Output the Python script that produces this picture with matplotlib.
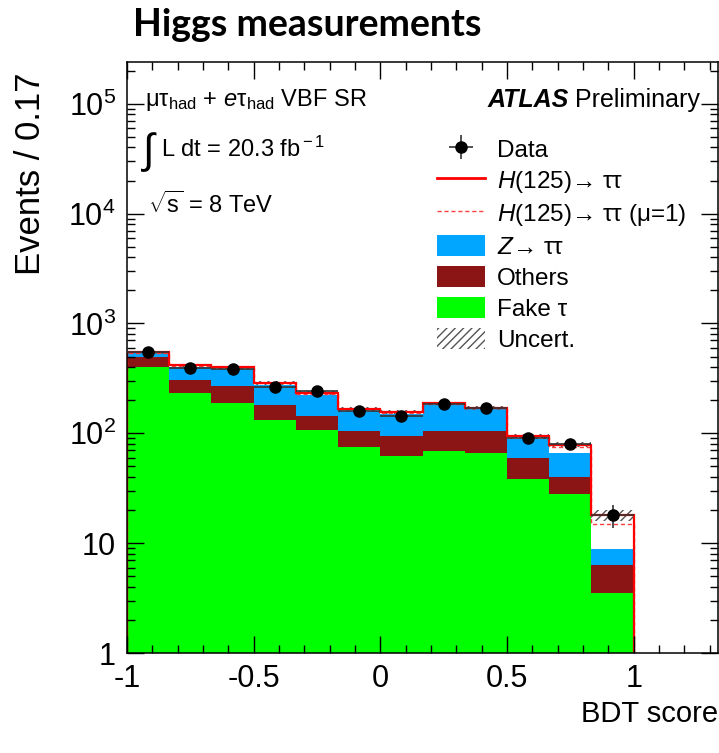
import matplotlib

matplotlib.use("Agg")

import matplotlib.pyplot as plt
import numpy as np
from matplotlib.lines import Line2D
from matplotlib.patches import Patch
from matplotlib.ticker import FixedLocator, FuncFormatter, LogLocator, MultipleLocator

plt.rcParams["font.family"] = ["Liberation Sans", "DejaVu Sans"]
plt.rcParams["mathtext.fontset"] = "custom"
plt.rcParams["mathtext.rm"] = "Liberation Sans"
plt.rcParams["mathtext.it"] = "Liberation Sans:italic"
plt.rcParams["mathtext.bf"] = "Liberation Sans:bold"
plt.rcParams["hatch.linewidth"] = 1.0
plt.rcParams["hatch.color"] = "#555555"

# 12 bins of width 0.17 over the BDT score range
bin_edges = np.linspace(-1.0, 1.0, 13)

fake_tau = [401, 233, 188, 132, 108, 75, 61.5, 69, 66, 38, 28, 3.5]
others = [90, 74, 82, 49, 36, 29, 32.5, 35, 38, 21, 12, 2.8]
z_tautau = [44, 94, 116, 94, 78, 57, 55, 78, 63, 30, 26, 2.5]
higgs_fit = [10, 14, 15, 14, 11, 6, 8, 5, 3, 5, 13, 9.2]
higgs_mu1 = [6.5, 9, 10, 9, 7, 4, 5, 3.3, 2, 3.3, 8.5, 6.1]
uncert_rel = [0.03, 0.03, 0.03, 0.04, 0.04, 0.04, 0.04, 0.04, 0.05, 0.05, 0.06, 0.12]

data = [545, 392, 386, 266, 241, 158, 144, 185, 170, 90, 80, 18]
data_err = [23, 20, 20, 16, 16, 13, 12, 14, 13, 9.5, 9, 4.2]

COLOR_FAKE = "#00ff00"
COLOR_OTHERS = "#8b1414"
COLOR_ZTT = "#00a6ff"
COLOR_HIGGS = "#ff0000"
TEXT_SIZE = 17

fig = plt.figure(figsize=(7.19, 7.53), dpi=100)
ax = fig.add_axes([0.1766, 0.1328, 0.8220, 0.7849])

level_1 = np.array(fake_tau)
level_2 = level_1 + np.array(others)
level_3 = level_2 + np.array(z_tautau)
total = level_3 + np.array(higgs_fit)
total_mu1 = level_3 + np.array(higgs_mu1)

floor = 1e-3
ax.stairs(level_1, bin_edges, baseline=floor, fill=True, color=COLOR_FAKE, lw=0)
ax.stairs(level_2, bin_edges, baseline=level_1, fill=True, color=COLOR_OTHERS, lw=0)
ax.stairs(level_3, bin_edges, baseline=level_2, fill=True, color=COLOR_ZTT, lw=0)
ax.stairs(total, bin_edges, baseline=level_3, fill=True, color="white", lw=0)

band_lo = total * (1 - np.array(uncert_rel))
band_hi = total * (1 + np.array(uncert_rel))
ax.bar(
    bin_edges[:-1],
    band_hi - band_lo,
    width=np.diff(bin_edges),
    bottom=band_lo,
    align="edge",
    fill=False,
    hatch="////",
    edgecolor="#555555",
    lw=0,
)

ax.stairs(total_mu1, bin_edges, baseline=floor, color="#ff4040", lw=1.0, linestyle=(0, (3, 2)))
ax.stairs(total, bin_edges, baseline=floor, color=COLOR_HIGGS, lw=1.6)

bin_centres = 0.5 * (bin_edges[:-1] + bin_edges[1:])
data_handle = ax.errorbar(
    bin_centres,
    data,
    xerr=0.5 * np.diff(bin_edges),
    yerr=data_err,
    fmt="o",
    color="black",
    ecolor="#333333",
    ms=8,
    elinewidth=1.2,
    capsize=0,
    zorder=5,
)

ax.set_yscale("log")
ax.set_xlim(-1.0, 1.333)
ax.set_ylim(1, 2.4e5)

ax.xaxis.set_major_locator(FixedLocator([-1, -0.5, 0, 0.5, 1]))
ax.xaxis.set_minor_locator(MultipleLocator(0.1))
ax.xaxis.set_major_formatter(FuncFormatter(lambda v, p: f"{v:g}"))

ax.yaxis.set_major_locator(FixedLocator([1, 10, 1e2, 1e3, 1e4, 1e5]))
ax.yaxis.set_minor_locator(LogLocator(base=10, subs=np.arange(2, 10)))


def y_label(value, pos):
    exponent = int(round(np.log10(value)))
    if exponent == 0:
        return "1"
    if exponent == 1:
        return "10"
    return f"$10^{{{exponent}}}$"


ax.yaxis.set_major_formatter(FuncFormatter(y_label))
ax.tick_params(which="both", direction="in", top=True, right=True, width=1.0)
ax.tick_params(which="major", length=12, labelsize=22, pad=8)
ax.tick_params(which="minor", length=6)
for spine in ax.spines.values():
    spine.set_linewidth(1.1)

ax.set_ylabel("Events / 0.17", fontsize=25, loc="top")
ax.yaxis.set_label_coords(-0.135, 0.982)
ax.set_xlabel("BDT score", fontsize=21, loc="right", labelpad=4)

ax.text(0.03, 0.936, r"μτ$_{\rm had}$ + $e$τ$_{\rm had}$ VBF SR", transform=ax.transAxes,
        fontsize=TEXT_SIZE, va="center", ha="left")
ax.text(0.027, 0.848, "∫", transform=ax.transAxes, fontsize=30, va="center", ha="left")
ax.text(0.057, 0.853, r"L dt = 20.3 fb$^{\rm -1}$", transform=ax.transAxes,
        fontsize=TEXT_SIZE, va="center", ha="left")
ax.text(0.035, 0.758, r"$\sqrt{\rm s}$ = 8 TeV", transform=ax.transAxes,
        fontsize=TEXT_SIZE, va="center", ha="left")
ax.text(0.748, 0.936, "ATLAS", transform=ax.transAxes, fontsize=TEXT_SIZE + 1,
        fontweight="bold", fontstyle="italic", va="center", ha="right")
ax.text(0.9695, 0.936, "Preliminary", transform=ax.transAxes, fontsize=TEXT_SIZE + 1,
        va="center", ha="right")

legend_handles = [
    data_handle,
    Line2D([], [], color=COLOR_HIGGS, lw=2.0),
    Line2D([], [], color="#ff4040", lw=1.0, linestyle=(0, (3, 2))),
    Patch(facecolor=COLOR_ZTT, lw=0),
    Patch(facecolor=COLOR_OTHERS, lw=0),
    Patch(facecolor=COLOR_FAKE, lw=0),
    Patch(facecolor="none", edgecolor="#555555", hatch="////", lw=0),
]
legend_labels = [
    "Data",
    r"$H$(125)→ ττ",
    r"$H$(125)→ ττ (μ=1)",
    r"$Z$→ ττ",
    "Others",
    "Fake τ",
    "Uncert.",
]
ax.legend(
    legend_handles,
    legend_labels,
    loc="upper left",
    bbox_to_anchor=(0.5245, 0.872),
    frameon=False,
    fontsize=17.5,
    handlelength=1.98,
    handleheight=1.0,
    handletextpad=0.5,
    labelspacing=0.28,
    borderpad=0,
    borderaxespad=0,
)

fig.text(0.185, 0.967, "Higgs measurements", fontsize=27, fontweight="bold",
         family=["Lato", "DejaVu Sans"], va="center", ha="left")

fig.savefig("out.png", dpi=100)
